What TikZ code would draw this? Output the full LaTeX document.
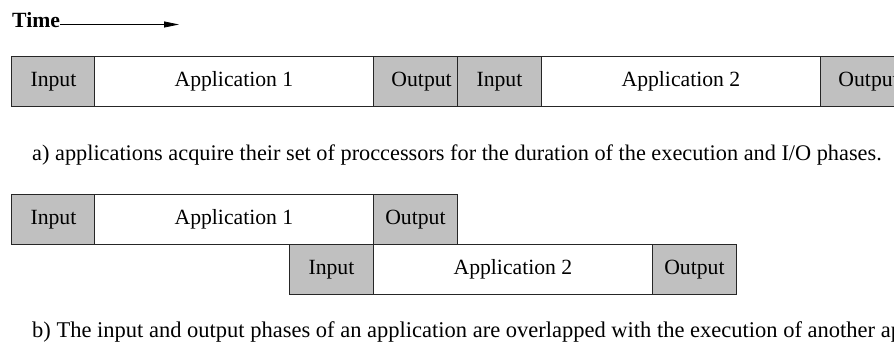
\documentclass[tikz,border=0pt]{standalone}
\usepackage{fontspec}
\setmainfont{Liberation Serif}
\usetikzlibrary{arrows.meta}
\definecolor{phasegray}{HTML}{C0C0C0}
\tikzset{
  every node/.style={font=\fontsize{21.7}{26}\selectfont},
  phase/.style={draw=black!85, line width=0.9pt, minimum height=50pt, inner sep=0pt, anchor=north west},
  io/.style={phase, fill=phasegray, minimum width=84pt},
  app/.style={phase, fill=white, minimum width=279pt},
  caption/.style={anchor=base west, inner sep=0pt},
}
\begin{document}
\begin{tikzpicture}[x=1pt,y=-1pt]
\useasboundingbox (0,0) rectangle (894,345);
\clip (0,0) rectangle (894,345);
% time arrow
\node[caption, font=\fontsize{21.7}{26}\selectfont\bfseries] (time) at (12,28) {Time};
\coordinate (timeend) at (179,24.5);
\draw[line width=0.8pt, -{Triangle[length=15pt,width=6pt]}] ([yshift=3.5pt]time.base east) -- (timeend);
% row a
\node[io] (a1in) at (11,56) {Input};
\node[app] (a1app) at (94,56) {Application 1};
\node[io, text width=84pt, align=left] (a1out) at (373,56) {\hspace*{18pt}Output};
\node[io] (a2in) at (457,56) {Input};
\node[app] (a2app) at (541,56) {Application 2};
\node[io, text width=84pt, align=left] (a2out) at (820,56) {\hspace*{18pt}Output};
\node[caption, font=\fontsize{22.3}{26}\selectfont] (capa) at (32,160) {a) applications acquire their set of proccessors for the duration of the execution and I/O phases.};
% row b
\node[io] (b1in) at (11,194) {Input};
\node[app] (b1app) at (94,194) {Application 1};
\node[io] (b1out) at (373,194) {Output};
\node[io] (b2in) at (289,244) {Input};
\node[app] (b2app) at (373,244) {Application 2};
\node[io] (b2out) at (652,244) {Output};
\node[caption, font=\fontsize{22.5}{26}\selectfont] (capb) at (32,337) {b) The input and output phases of an application are overlapped with the execution of another application.};
\end{tikzpicture}
\end{document}
